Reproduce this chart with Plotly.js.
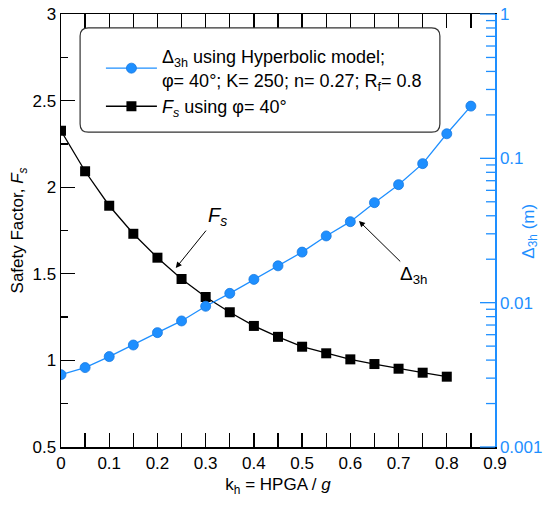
<!DOCTYPE html>
<html>
<head>
<meta charset="utf-8">
<script src="https://cdn.plot.ly/plotly-3.0.1.min.js"></script>
<style>html,body{margin:0;padding:0;background:#fff;}#chart{width:550px;height:505px;}</style>
</head>
<body>
<div id="chart"></div>
<script>
var kh = [0, 0.05, 0.1, 0.15, 0.2, 0.25, 0.3, 0.35, 0.4, 0.45, 0.5, 0.55, 0.6, 0.65, 0.7, 0.75, 0.8, 0.85];
var fsKh = [0, 0.05, 0.1, 0.15, 0.2, 0.25, 0.3, 0.35, 0.4, 0.45, 0.5, 0.55, 0.6, 0.65, 0.7, 0.75, 0.8];
var fsValues = [2.326, 2.092, 1.893, 1.731, 1.593, 1.470, 1.366, 1.278, 1.199, 1.136, 1.079, 1.041, 1.006, 0.979, 0.952, 0.929, 0.906];
var delta3h = [0.00317, 0.00355, 0.00423, 0.00509, 0.00620, 0.00747, 0.00944, 0.0116, 0.0145, 0.0180, 0.0224, 0.0290, 0.0364, 0.0493, 0.0657, 0.0919, 0.148, 0.230];
var y2Range = [-3, 0];
var y2TickVals = [0.001, 0.01, 0.1, 1];
var y2TickText = ['0.001', '0.01', '0.1', '1'];
var y2MinorVals = [0.002, 0.003, 0.004, 0.005, 0.006, 0.007, 0.008, 0.009,
                   0.02, 0.03, 0.04, 0.05, 0.06, 0.07, 0.08, 0.09,
                   0.2, 0.3, 0.4, 0.5, 0.6, 0.7, 0.8, 0.9];

var BLUE = '#1e8fff';
var FONT = 'Liberation Sans, Arial, sans-serif';
var PLOT_W = 550 - 61 - 55;

var traces = [
  {
    x: fsKh, y: fsValues, type: 'scatter', mode: 'lines+markers',
    name: '<i>F<sub>s</sub></i> using φ= 40°',
    legendrank: 2,
    line: {color: '#000', width: 1.3},
    marker: {symbol: 'square', size: 10, color: '#000'}
  },
  {
    x: kh, y: delta3h, yaxis: 'y2', type: 'scatter', mode: 'lines+markers',
    name: 'Δ<sub>3h</sub> using Hyperbolic model;<br>φ= 40°; K= 250; n= 0.27; R<sub>f</sub>= 0.8',
    legendrank: 1,
    line: {color: BLUE, width: 1.3},
    marker: {symbol: 'circle', size: 10, color: BLUE, line: {color: '#1a7ae0', width: 0.8}}
  }
];

var r = 0.019;
var x0 = 0.044, x1 = 0.873, y0 = 0.727, y1 = 0.968;
var legendPath = 'M ' + (x0 + r) + ',' + y1 + ' L ' + (x1 - r) + ',' + y1 +
  ' Q ' + x1 + ',' + y1 + ' ' + x1 + ',' + (y1 - r) +
  ' L ' + x1 + ',' + (y0 + r) + ' Q ' + x1 + ',' + y0 + ' ' + (x1 - r) + ',' + y0 +
  ' L ' + (x0 + r) + ',' + y0 + ' Q ' + x0 + ',' + y0 + ' ' + x0 + ',' + (y0 + r) +
  ' L ' + x0 + ',' + (y1 - r) + ' Q ' + x0 + ',' + y1 + ' ' + (x0 + r) + ',' + y1 + ' Z';

function logFrac(v) {
  return (Math.log10(v) - y2Range[0]) / (y2Range[1] - y2Range[0]);
}
function rightTick(v, len) {
  var f = logFrac(v);
  return {type: 'line', xref: 'paper', yref: 'paper', x0: 1, x1: 1 - len / PLOT_W,
          y0: f, y1: f, line: {color: BLUE, width: 1.3}, layer: 'above'};
}

var shapes = [
  {type: 'path', xref: 'paper', yref: 'paper', path: legendPath,
   line: {color: '#333', width: 1.2}, fillcolor: 'rgba(0,0,0,0)', layer: 'above'}
];
y2TickVals.forEach(function (v) { shapes.push(rightTick(v, 15)); });
y2MinorVals.forEach(function (v) { shapes.push(rightTick(v, 9)); });

var layout = {
  width: 550, height: 505,
  margin: {l: 61, r: 55, t: 14, b: 58, pad: 0},
  paper_bgcolor: '#fff', plot_bgcolor: '#fff',
  font: {family: FONT, size: 17, color: '#000'},
  showlegend: true,
  legend: {
    x: 0.092, y: 0.944, xanchor: 'left', yanchor: 'top',
    bgcolor: 'rgba(255,255,255,0)', borderwidth: 0,
    itemwidth: 51, traceorder: 'normal',
    font: {family: FONT, size: 18, color: '#000'},
    tracegroupgap: 6
  },
  xaxis: {
    range: [0, 0.9], dtick: 0.1, tick0: 0,
    ticks: 'inside', ticklen: 14, tickwidth: 1.3, tickcolor: '#000',
    minor: {dtick: 0.05, ticks: 'inside', ticklen: 7, tickwidth: 1.3, tickcolor: '#000'},
    showline: true, linecolor: '#000', linewidth: 1.5, mirror: 'allticks',
    showgrid: false, zeroline: false,
    tickfont: {family: FONT, size: 17},
    title: {text: 'k<sub>h</sub> = HPGA / <i>g</i>', font: {family: FONT, size: 17}, standoff: 6}
  },
  yaxis: {
    range: [0.5, 3], dtick: 0.5, tick0: 0.5,
    ticks: 'inside', ticklen: 14, tickwidth: 1.3, tickcolor: '#000',
    minor: {dtick: 0.25, ticks: 'inside', ticklen: 7, tickwidth: 1.3, tickcolor: '#000'},
    showline: true, linecolor: '#000', linewidth: 1.5,
    showgrid: false, zeroline: false,
    tickfont: {family: FONT, size: 17},
    title: {text: 'Safety Factor, <i>F<sub>s</sub></i>', font: {family: FONT, size: 17}, standoff: 4}
  },
  yaxis2: {
    type: 'log', range: y2Range, overlaying: 'y', side: 'right', anchor: 'x',
    tickmode: 'array', tickvals: y2TickVals, ticktext: y2TickText,
    ticks: '',
    showline: true, linecolor: BLUE, linewidth: 1.5,
    showgrid: false, zeroline: false,
    tickfont: {family: FONT, size: 17, color: BLUE}
  },
  shapes: shapes,
  annotations: [
    {x: 0.238, y: 1.533, xref: 'x', yref: 'y', text: '<i>F<sub>s</sub></i>',
     font: {family: FONT, size: 20}, showarrow: true,
     axref: 'x', ayref: 'y', ax: 0.3235, ay: 1.828,
     arrowhead: 2, arrowsize: 1.2, arrowwidth: 1, arrowcolor: '#000'},
    {x: 0.618, y: Math.log10(0.0368), xref: 'x', yref: 'y2', text: 'Δ<sub>3h</sub>',
     font: {family: FONT, size: 19}, showarrow: true,
     axref: 'x', ayref: 'y2', ax: 0.732, ay: -1.808,
     arrowhead: 2, arrowsize: 1.2, arrowwidth: 1, arrowcolor: '#000'},
    {xref: 'paper', yref: 'paper', x: 1.08, y: 0.499, text: 'Δ<sub>3h</sub> (m)',
     textangle: -90, showarrow: false, xanchor: 'center', yanchor: 'middle',
     font: {family: FONT, size: 17, color: BLUE}}
  ]
};

Plotly.newPlot('chart', traces, layout, {displayModeBar: false, staticPlot: true});
</script>
</body>
</html>
